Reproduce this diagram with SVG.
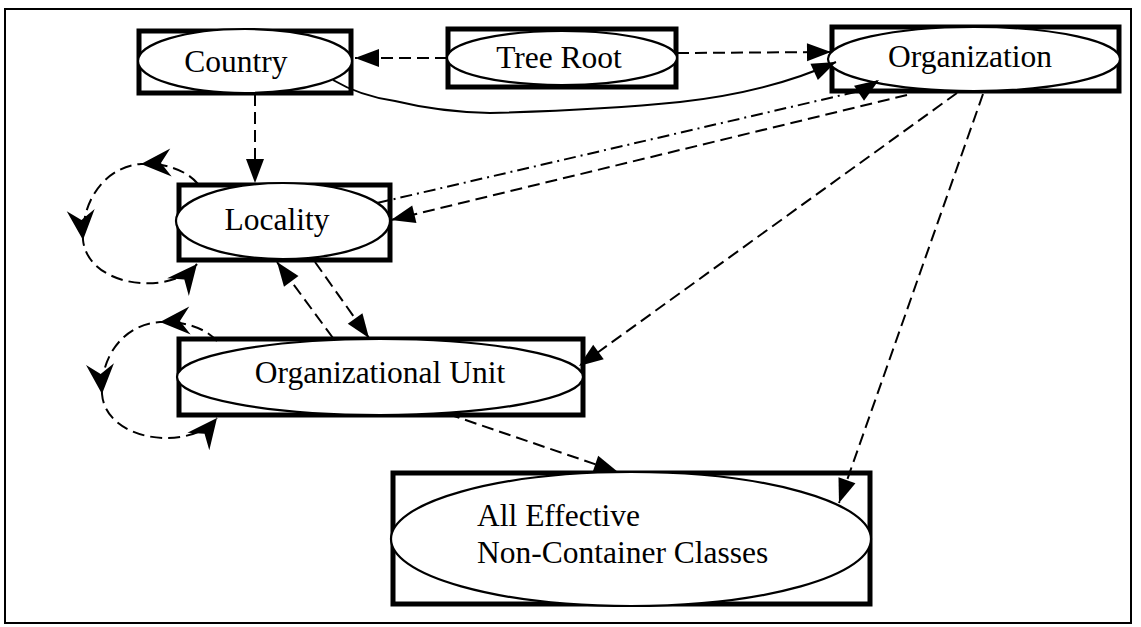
<svg xmlns="http://www.w3.org/2000/svg" width="1141" height="627" viewBox="0 0 1141 627">
<style>
.box{fill:none;stroke:#000;stroke-width:5}
.ell{fill:#fff;stroke:#000;stroke-width:2.2}
.lbl{font-family:"Liberation Serif","Times New Roman",serif;font-size:31.5px;fill:#000}
.mid{text-anchor:middle}
.dash{fill:none;stroke:#000;stroke-width:2;stroke-dasharray:12 6}
.dd{fill:none;stroke:#000;stroke-width:2;stroke-dasharray:12 5 2 5}
.solid{fill:none;stroke:#000;stroke-width:2}
.arr{marker-end:url(#tri)}
.loop{marker-mid:url(#barb);marker-end:url(#barb)}
</style>
<defs>
<marker id="tri" markerUnits="userSpaceOnUse" markerWidth="24" markerHeight="18" refX="24" refY="9" orient="auto" overflow="visible">
<path d="M0,0 L24,9 L0,18 z" fill="#000"/>
</marker>
<marker id="barb" markerUnits="userSpaceOnUse" markerWidth="30" markerHeight="30" refX="30" refY="15" orient="auto" overflow="visible">
<path d="M0,1 L30,15 L0,29 L10,15 z" fill="#000"/>
</marker>
</defs>
<rect x="0" y="0" width="1141" height="627" fill="#fff"/>
<rect x="5" y="9" width="1126" height="614" fill="none" stroke="#000" stroke-width="2"/>

<g id="country">
<rect class="box" x="139" y="31" width="212" height="62"/>
<ellipse class="ell" cx="245" cy="61" rx="107" ry="32"/>
<text class="lbl mid" x="236" y="72">Country</text>
</g>
<g id="tree-root">
<rect class="box" x="448" y="29" width="228" height="58"/>
<ellipse class="ell" cx="562" cy="58" rx="115" ry="27"/>
<text class="lbl mid" x="559" y="68">Tree Root</text>
</g>
<g id="organization">
<rect class="box" x="832" y="27" width="287" height="64"/>
<ellipse class="ell" cx="974" cy="59" rx="146" ry="32"/>
<text class="lbl mid" x="970" y="67">Organization</text>
</g>
<g id="locality">
<rect class="box" x="179" y="185" width="211" height="75"/>
<ellipse class="ell" cx="283" cy="221" rx="107" ry="38"/>
<text class="lbl mid" x="277" y="230">Locality</text>
</g>
<g id="org-unit">
<rect class="box" x="179" y="339" width="404" height="76"/>
<ellipse class="ell" cx="380" cy="377" rx="203" ry="38"/>
<text class="lbl mid" x="380" y="383">Organizational Unit</text>
</g>
<g id="all-effective">
<rect class="box" x="393" y="473" width="477" height="131"/>
<ellipse class="ell" cx="631" cy="539" rx="240" ry="67"/>
<text class="lbl" x="477" y="526">All Effective</text>
<text class="lbl" x="477" y="563">Non-Container Classes</text>
</g>

<g id="connectors">
<path class="dash arr" d="M 447 58 L 355 58"/>
<path class="dash arr" d="M 677 53 L 831 52"/>
<path class="solid arr" d="M 333 80 Q 360 96 395 101 Q 440 112 490 113 Q 600 110 680 102 Q 770 92 836 62"/>
<path class="dd arr" d="M 377 203 L 864 90 L 879 80"/>
<path class="dash arr" d="M 907 95 L 391 220"/>
<path class="dash arr" d="M 255 94 L 255 183"/>
<path class="dash loop" d="M 198 184 C 186 170, 166 163, 141 164 C 108 166, 81 198, 83 240 C 88 287, 170 297, 197 264"/>
<path class="dash loop" d="M 217 341 C 205 328, 185 321, 160 322 C 125 324, 100 355, 102 394 C 106 442, 190 452, 217 418"/>
<path class="dash arr" d="M 333 338 L 277 262"/>
<path class="dash arr" d="M 315 262 L 369 338"/>
<path class="dash arr" d="M 957 93 L 579 366"/>
<path class="dash arr" d="M 983 94 L 839 503"/>
<path class="dash arr" d="M 448 414 L 618 472"/>
</g>
</svg>
